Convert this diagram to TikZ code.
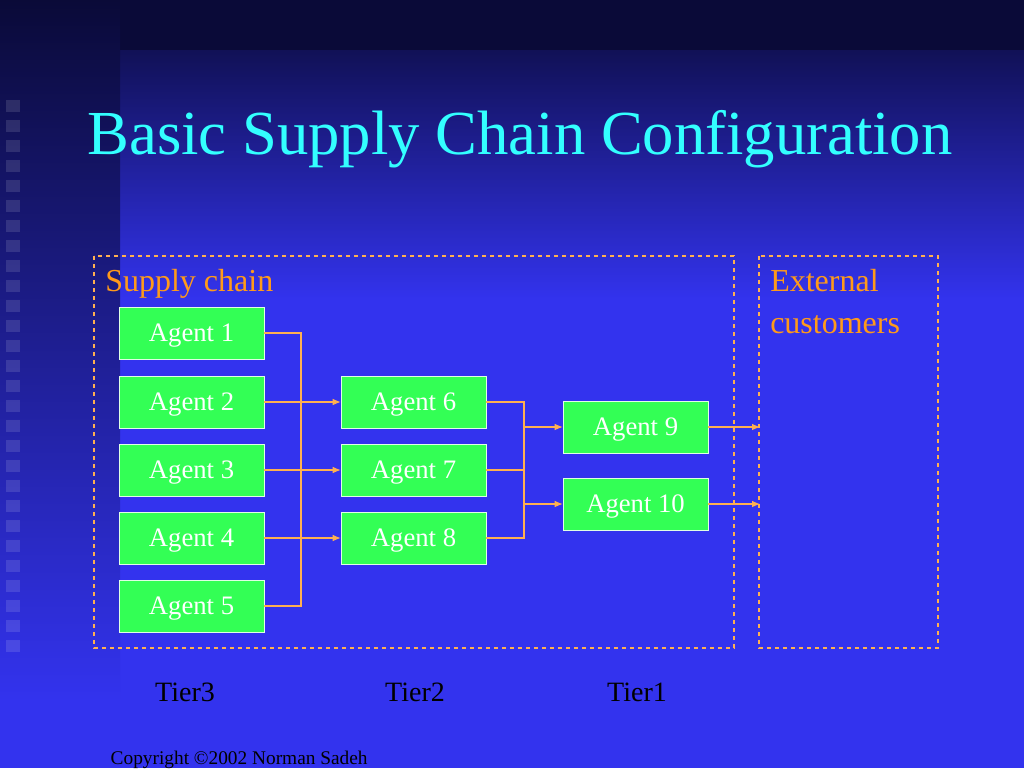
\documentclass[tikz,border=0pt]{standalone}
\usepackage{fontspec}
\setmainfont{Liberation Serif}
\usetikzlibrary{arrows.meta}
\definecolor{bgblue}{HTML}{3333EE}
\definecolor{navy}{HTML}{0A0A38}
\definecolor{agentgreen}{HTML}{33FF55}
\definecolor{lineor}{HTML}{FFB050}
\definecolor{titlecyan}{HTML}{33FFFF}
\definecolor{labor}{HTML}{FF9A1A}
\begin{document}
\begin{tikzpicture}[x=0.75pt,y=-0.75pt,
  agent/.style={draw=white!85!agentgreen,fill=agentgreen,minimum width=108.75pt,minimum height=39pt,inner sep=0pt,font=\fontsize{20}{24}\selectfont,text=white,text depth=0pt},
  conn/.style={draw=lineor,line width=0.8pt},
  arr/.style={conn,-{Latex[length=6pt,width=5pt]}},
  region/.style={draw=lineor,dashed,line width=0.8pt},
  lab/.style={font=\fontsize{24}{31.5}\selectfont,text=labor,anchor=north west,inner sep=0pt,align=left},
  tier/.style={font=\fontsize{21}{24}\selectfont,text=black}]
\useasboundingbox (0,0) rectangle (1024,768);
\fill[bgblue] (0,0) rectangle (1024,768);
\shade[top color=navy,bottom color=bgblue] (0,0) rectangle (1024,300);
\fill[navy] (0,0) rectangle (1024,50);
\shade[top color=navy,bottom color=bgblue] (0,0) rectangle (120,700);
\foreach \yy in {100,120,...,640} \fill[white,opacity=0.12] (6,\yy) rectangle (20,\yy+12);
\node[text=titlecyan,font=\fontsize{47}{54}\selectfont] (title) at (520,139) {Basic Supply Chain Configuration};
\draw[region] (94,256) rectangle (734,648);
\draw[region] (759,256) rectangle (938,648);
\node[lab] (sc) at (105,269) {Supply chain};
\node[lab] (ec) at (770,269) {External\\customers};
\node[agent] (a1) at (191.5,333) {Agent 1};
\node[agent] (a2) at (191.5,402) {Agent 2};
\node[agent] (a3) at (191.5,470) {Agent 3};
\node[agent] (a4) at (191.5,538) {Agent 4};
\node[agent] (a5) at (191.5,606) {Agent 5};
\node[agent] (a6) at (413.5,402) {Agent 6};
\node[agent] (a7) at (413.5,470) {Agent 7};
\node[agent] (a8) at (413.5,538) {Agent 8};
\node[agent] (a9) at (635.5,427) {Agent 9};
\node[agent] (a10) at (635.5,504) {Agent 10};
\coordinate (j1a) at (301,333);
\coordinate (j1b) at (301,606);
\coordinate (j2a) at (524,402);
\coordinate (j2b) at (524,538);
\coordinate (e9) at (760,427);
\coordinate (e10) at (760,504);
\draw[conn] (a1.east) -- (j1a) -- (j1b) -- (a5.east);
\draw[conn] (a2.east) -- (301,402);
\draw[conn] (a3.east) -- (301,470);
\draw[conn] (a4.east) -- (301,538);
\draw[arr] (301,402) -- (a6.west);
\draw[arr] (301,470) -- (a7.west);
\draw[arr] (301,538) -- (a8.west);
\draw[conn] (a6.east) -- (j2a) -- (j2b) -- (a8.east);
\draw[conn] (a7.east) -- (524,470);
\draw[arr] (524,427) -- (a9.west);
\draw[arr] (524,504) -- (a10.west);
\draw[arr] (a9.east) -- (e9);
\draw[arr] (a10.east) -- (e10);
\node[tier] (t3) at (185,692) {Tier3};
\node[tier] (t2) at (415,692) {Tier2};
\node[tier] (t1) at (637,692) {Tier1};
\node[anchor=west,font=\fontsize{14.5}{16}\selectfont,text=black] (cp) at (106,760) {Copyright ©2002 Norman Sadeh};
\end{tikzpicture}
\end{document}
